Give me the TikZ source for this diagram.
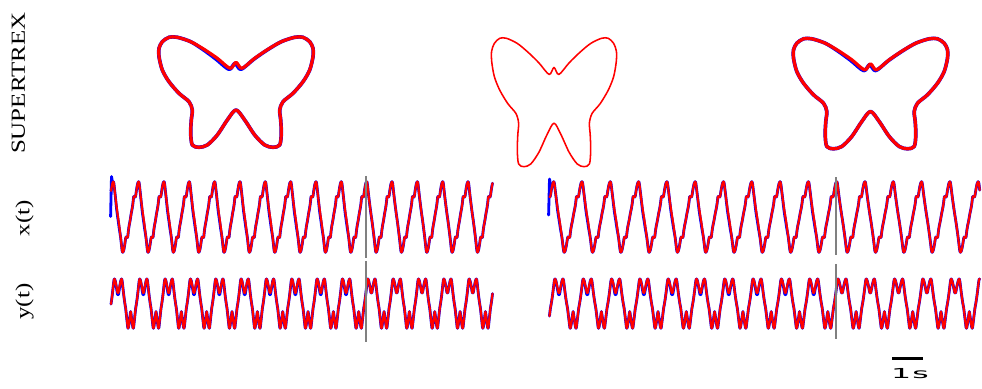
\documentclass[tikz,border=0pt]{standalone}
\usepackage{fontspec}
\setmainfont{Liberation Serif}
\newfontfamily\monofont{DejaVu Sans Mono}
\usepackage{graphicx}

% butterfly contour: dx / y / arc position s / perturbation weight
\def\bpts{0/62.3/0/1, -6/68.3/8.3/1, -18.7/58.3/24.3/1, -32/49.3/40.3/0.5, -45.3/41.7/55.6/0, -58.7/37.3/69.7/0, -67/37.3/78/0, -73.7/41.7/86/0, -77/48.3/93.4/0, -77/56.7/101.8/0, -73.7/70/115.5/0, -67/81.7/129/0, -57/93.3/144.3/0, -47/101.7/157.3/0, -43.7/110/166.2/0, -44.7/120/176.2/0, -45.3/133.3/189.5/0, -43.7/145/201.3/0, -37/147.3/208.4/0, -28.7/145/217/0, -18.7/135/231.1/0, -8.7/120/249.1/0, 0/110/262.2/0, 8.7/120/275.3/0, 18.7/135/293.3/0, 28.7/145/307.4/0, 37/147.3/316/0, 43.7/145/323.1/0, 45.3/133.3/334.9/0, 44.7/120/348.2/0, 43.7/110/358.2/0, 47/101.7/367.1/0, 57/93.3/380.1/0, 67/81.7/395.4/0, 73.7/70/408.9/0, 77/56.7/422.6/0, 77/48.3/431/0, 73.7/41.7/438.4/0, 67/37.3/446.4/0, 58.7/37.3/454.7/0, 45.3/41.7/468.8/0, 32/49.3/484.1/0.5, 18.7/58.3/500.1/1, 6/68.3/516.1/1}

% #1 name, #2 cx, #3 sx, #4 ytop, #5 sy, #6 perturbation
\newcommand\BuildBfly[6]{%
  \gdef#1{}%
  \foreach \pa/\pb/\pc/\pwt in \bpts {%
    \pgfmathsetmacro\ppx{#2+(\pa-#6*\pwt)*#3}%
    \pgfmathsetmacro\ppy{#4+(\pb+#6*\pwt-37.3)*#5}%
    \xdef#1{#1 (\ppx,\ppy)}%
  }}

% #1 name, #2 xs, #3 xe, #4 period, #5 phase, #6 mode 0=x 1=y, #7 perturbation, #8 gray x
\newcommand\BuildTS[8]{%
  \gdef#1{}%
  \foreach \kk in {0,...,15}{%
    \foreach \pa/\pb/\pc/\pwt in \bpts {%
      \pgfmathsetmacro\ttx{#2+((\pc-426.8)/524.4+#5+\kk)*#4}%
      \ifdim\ttx pt<#2pt\relax\else
        \ifdim\ttx pt>#3pt\relax\else
          \ifdim\ttx pt<#8pt \def\ppw{#7*\pwt}\else\def\ppw{0}\fi
          \ifnum#6=0
            \pgfmathsetmacro\vvy{217-(\pa-\ppw)*0.458}%
          \else
            \pgfmathsetmacro\vvy{279+(\pb+0.8*\ppw-37.3)*0.448}%
          \fi
          \xdef#1{#1 (\ttx,\vvy)}%
        \fi
      \fi
    }%
  }}

\newcommand\DrawPts[3]{\edef\tmpdraw{\noexpand\draw[#1] plot[#2] coordinates {#3};}\tmpdraw}

\tikzset{
  redts/.style={draw=red, line width=1.55pt, line join=round, line cap=round},
  bluets/.style={draw=blue, line width=2.0pt, line join=round, line cap=round},
  redbf/.style={draw=red, line width=2.3pt, line join=round},
  bluebf/.style={draw=blue, line width=2.6pt, line join=round},
  redthin/.style={draw=red, line width=1.1pt, line join=round},
  grayline/.style={draw=gray, line width=1.4pt},
  lab/.style={font=\fontsize{14.2}{17}\selectfont, inner sep=0pt, rotate=90, anchor=base},
}

\begin{document}
\begin{tikzpicture}[x=0.25mm, y=-0.25mm]
\useasboundingbox (0,0) rectangle (982,389);

\BuildBfly\bfA{236}{1}{37.3}{1}{0}
\BuildBfly\bfAb{236}{1}{37.3}{1}{1}
\BuildBfly\bfB{554}{0.81}{38.3}{1.167}{0}
\BuildBfly\bfC{870.5}{1}{38.8}{1}{0}
\BuildBfly\bfCb{870.5}{1}{38.8}{1}{0.8}

\BuildTS\xLr{111}{493}{25.34}{0.09}{0}{0}{366}
\BuildTS\xLb{111}{493}{25.34}{0.09}{0}{5}{366}
\BuildTS\yLr{111}{493}{25.34}{0.09}{1}{0}{366}
\BuildTS\yLb{111}{493}{25.34}{0.09}{1}{5}{366}
\BuildTS\xRr{549}{980}{28.3}{0.166}{0}{0}{836}
\BuildTS\xRb{549}{980}{28.3}{0.166}{0}{5}{836}
\BuildTS\yRr{549}{980}{28.3}{0.166}{1}{0}{836}
\BuildTS\yRb{549}{980}{28.3}{0.166}{1}{5}{836}

% labels
\node[lab] (lsup) at (25,83.3) {\scalebox{1.25}[1]{SUPERTREX}};
\node[lab] (lx) at (29.5,218) {\scalebox{1.25}[1]{x(t)}};
\node[lab] (ly) at (29.5,301.5) {\scalebox{1.25}[1]{y(t)}};

% butterflies
\DrawPts{bluebf}{smooth cycle, tension=0.5}{\bfAb}
\DrawPts{redbf}{smooth cycle, tension=0.5}{\bfA}
\DrawPts{redthin}{smooth cycle, tension=0.5}{\bfB}
\DrawPts{bluebf}{smooth cycle, tension=0.5}{\bfCb}
\DrawPts{redbf}{smooth cycle, tension=0.5}{\bfC}

% time series, left
\coordinate (tLa) at (110.6,216.5);
\coordinate (tLb) at (111.5,176.5);
\coordinate (tLc) at (112.8,184);
\draw[bluets] (tLa) -- (tLb) -- (tLc);
\DrawPts{bluets}{smooth, tension=0.4}{\xLb}
\DrawPts{redts}{smooth, tension=0.4}{\xLr}
\DrawPts{bluets}{smooth, tension=0.4}{\yLb}
\DrawPts{redts}{smooth, tension=0.4}{\yLr}

% time series, right
\coordinate (tRa) at (548.6,215);
\coordinate (tRb) at (549.5,179);
\coordinate (tRc) at (550.8,186);
\draw[bluets] (tRa) -- (tRb) -- (tRc);
\DrawPts{bluets}{smooth, tension=0.4}{\xRb}
\DrawPts{redts}{smooth, tension=0.4}{\xRr}
\DrawPts{bluets}{smooth, tension=0.4}{\yRb}
\DrawPts{redts}{smooth, tension=0.4}{\yRr}

% gray markers (end of training)
\coordinate (gL1) at (366,176);
\coordinate (gL2) at (366,257.7);
\coordinate (gL3) at (366,261);
\coordinate (gL4) at (366,341.5);
\draw[grayline] (gL1) -- (gL2);
\draw[grayline] (gL3) -- (gL4);
\coordinate (gR1) at (836,177.5);
\coordinate (gR2) at (836,255);
\coordinate (gR3) at (836,264);
\coordinate (gR4) at (836,339);
\draw[grayline] (gR1) -- (gR2);
\draw[grayline] (gR3) -- (gR4);

% scale bar
\coordinate (sbL) at (892,358.3);
\coordinate (sbR) at (923.3,358.3);
\draw[line width=2.1pt] (sbL) -- (sbR);
\node[inner sep=0pt, anchor=base, font=\monofont\fontsize{9.8}{11}\selectfont] (sblab) at (910.5,378) {\scalebox{2.4}[1]{1s}};
\end{tikzpicture}
\end{document}
